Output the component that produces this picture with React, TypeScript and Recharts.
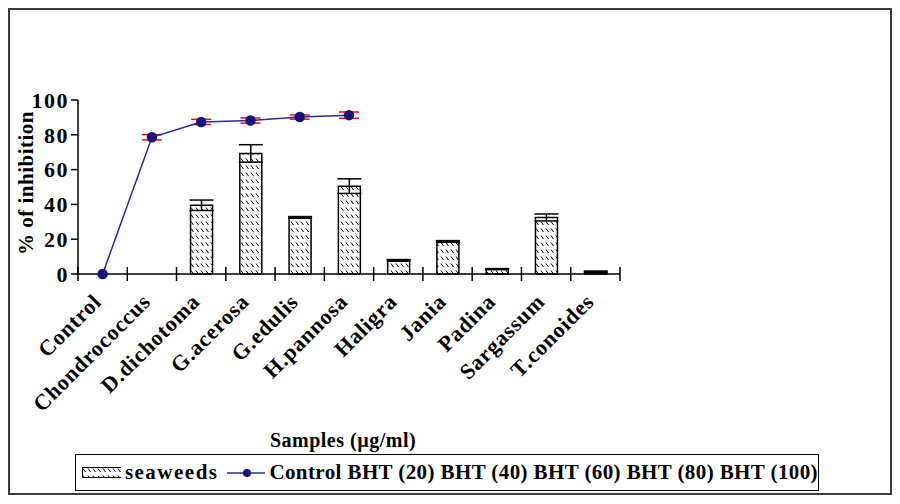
import React from 'react';
import { ComposedChart, Bar, Line, XAxis, YAxis, ErrorBar, Label } from 'recharts';

const categories = [
  'Control',
  'Chondrococcus',
  'D.dichotoma',
  'G.acerosa',
  'G.edulis',
  'H.pannosa',
  'Haligra',
  'Jania',
  'Padina',
  'Sargassum',
  'T.conoides',
];
const seaweeds = [null, null, 39.5, 69.3, 32.5, 50.5, 7.8, 18.7, 2.8, 32.5, 1.3];
const seaweedsErr = [null, null, 3, 5, 0.5, 4.2, 0.5, 0.5, 0.3, 2, 0.4];
const bht = [0, 78.6, 87.4, 88.2, 90.2, 91.3, null, null, null, null, null];
const bhtErr = [0, 1.5, 1.5, 1.5, 1.2, 1.8, null, null, null, null, null];
const yTicks = [0, 20, 40, 60, 80, 100];

const data = categories.map((name, i) => ({
  name,
  seaweeds: seaweeds[i],
  seaweedsErr: seaweedsErr[i],
  bht: bht[i],
  bhtErr: bhtErr[i],
}));

const FONT = "'Liberation Serif', 'Times New Roman', serif";
const NAVY = '#14147a';
const CHART_W = 880;
const CHART_H = 483;
const MARGIN = { top: 90, right: 270, bottom: 119, left: 8 };
const PLOT_W = CHART_W - MARGIN.left - MARGIN.right - 60;
const BAND = PLOT_W / categories.length;

const XTick = (props: any) => {
  const { x, y, payload, index } = props;
  const half = BAND / 2;
  const tx = x;
  const ty = y + 29;
  return (
    <g>
      <line x1={x - half} x2={x - half} y1={y - 7} y2={y + 7} stroke="#000" strokeWidth={1.5} />
      {index === categories.length - 1 && (
        <line x1={x + half} x2={x + half} y1={y - 7} y2={y + 7} stroke="#000" strokeWidth={1.5} />
      )}
      <text
        x={tx}
        y={ty}
        textAnchor="end"
        transform={`rotate(-45, ${tx}, ${ty})`}
        fontFamily={FONT}
        fontWeight="bold"
        fontSize={22}
        letterSpacing={0.8}
        fill="#000"
      >
        {payload.value}
      </text>
    </g>
  );
};

const XTitle = ({ viewBox }: any) => (
  <text
    x={viewBox.x + viewBox.width / 2 - 6}
    y={viewBox.y + 173}
    textAnchor="middle"
    fontFamily={FONT}
    fontWeight="bold"
    fontSize={20}
    letterSpacing={0.5}
    fill="#000"
  >
    Samples (µg/ml)
  </text>
);

const YTitle = ({ viewBox }: any) => {
  const x = viewBox.x + 15;
  const y = MARGIN.top + 83;
  return (
    <text
      x={x}
      y={y}
      textAnchor="middle"
      transform={`rotate(-90, ${x}, ${y})`}
      fontFamily={FONT}
      fontWeight="bold"
      fontSize={21}
      letterSpacing={0.5}
      fill="#000"
    >
      % of inhibition
    </text>
  );
};

function HatchDefs() {
  return (
    <svg width={0} height={0} style={{ position: 'absolute' }}>
      <defs>
        <pattern id="hatch" width={5} height={7} patternUnits="userSpaceOnUse">
          <rect width={5} height={7} fill="#fff" />
          <line x1={1} y1={1.5} x2={3.5} y2={5} stroke="#000" strokeWidth={1} />
        </pattern>
      </defs>
    </svg>
  );
}

export default function App() {
  return (
    <div
      style={{
        position: 'relative',
        width: 884,
        height: 487,
        boxSizing: 'border-box',
        border: '2px solid #3c3c3c',
        background: '#fff',
        fontFamily: FONT,
      }}
    >
      <HatchDefs />
      <ComposedChart width={CHART_W} height={CHART_H} data={data} margin={MARGIN}>
        <XAxis
          dataKey="name"
          interval={0}
          tick={<XTick />}
          tickLine={false}
          tickSize={0}
          tickMargin={0}
          height={100}
          axisLine={{ stroke: '#000', strokeWidth: 1.5 }}
        >
          <Label content={<XTitle />} />
        </XAxis>
        <YAxis
          width={60}
          domain={[0, 100]}
          ticks={yTicks}
          interval={0}
          tickSize={7}
          tickMargin={2}
          tickLine={{ stroke: '#000', strokeWidth: 1.5 }}
          axisLine={{ stroke: '#000', strokeWidth: 1.5 }}
          tick={{ fontFamily: FONT, fontWeight: 'bold', fontSize: 22, fill: '#000', letterSpacing: 1.5 }}
        >
          <Label content={<YTitle />} />
        </YAxis>
        <Bar
          dataKey="seaweeds"
          barSize={22}
          fill="url(#hatch)"
          stroke="#000"
          strokeWidth={1.5}
          isAnimationActive={false}
        >
          <ErrorBar dataKey="seaweedsErr" width={12} stroke="#000" strokeWidth={1.5} />
        </Bar>
        <Line
          dataKey="bht"
          stroke="#2a2a9a"
          strokeWidth={1.5}
          dot={{ r: 4.5, fill: NAVY, stroke: NAVY }}
          activeDot={false}
          connectNulls={false}
          isAnimationActive={false}
        >
          <ErrorBar dataKey="bhtErr" width={10} stroke="#e01010" strokeWidth={1.5} />
        </Line>
      </ComposedChart>
      <div
        style={{
          position: 'absolute',
          left: 65,
          top: 444,
          width: 744,
          height: 37,
          boxSizing: 'border-box',
          border: '1.5px solid #000',
          display: 'flex',
          alignItems: 'center',
          fontWeight: 'bold',
          fontSize: 21,
          color: '#000',
          whiteSpace: 'nowrap',
        }}
      >
        <svg width={42} height={12} style={{ marginLeft: 6 }}>
          <rect x={0.5} y={0.5} width={40} height={10} fill="url(#hatch)" stroke="#000" strokeWidth={1} />
        </svg>
        <span style={{ marginLeft: 4, letterSpacing: 1.5 }}>seaweeds</span>
        <svg width={42} height={12} style={{ marginLeft: 8 }}>
          <line x1={0} x2={40} y1={6} y2={6} stroke="#2a2a9a" strokeWidth={1.5} />
          <circle cx={20} cy={6} r={4} fill={NAVY} />
        </svg>
        <span style={{ marginLeft: 4, letterSpacing: 0.4 }}>
          Control BHT (20) BHT (40) BHT (60) BHT (80) BHT (100)
        </span>
      </div>
    </div>
  );
}
